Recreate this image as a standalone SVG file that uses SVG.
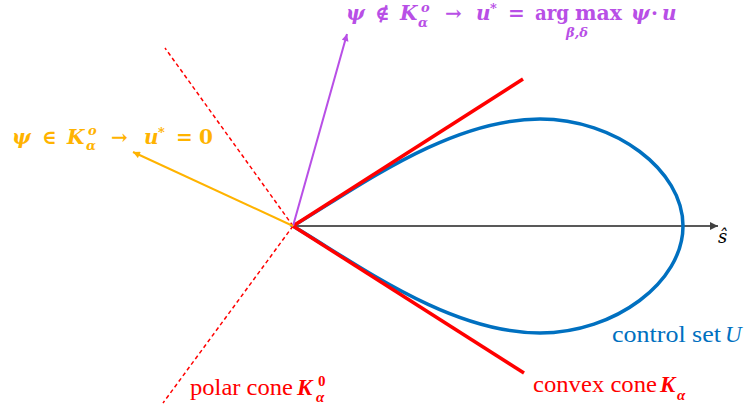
<svg xmlns="http://www.w3.org/2000/svg" width="747" height="412" viewBox="0 0 747 412">
<style>
.m{font-family:"DejaVu Serif","Liberation Serif",serif;font-weight:bold;font-style:italic}
.up{font-style:normal}
.lab{font-family:"Liberation Serif","DejaVu Serif",serif}
.it{font-style:italic}
.cone{stroke:#FF0000;stroke-width:3.5;fill:none;stroke-linecap:butt}
.dash{stroke:#FF0000;stroke-width:1.5;fill:none;stroke-dasharray:4 3}
</style>
<defs>
<marker id="ak" viewBox="0 0 10 10" refX="10" refY="5" markerWidth="10" markerHeight="8" markerUnits="userSpaceOnUse" orient="auto"><path d="M0,0 L10,5 L0,10 z" fill="#404040"/></marker>
<marker id="am" viewBox="0 0 10 10" refX="10" refY="5" markerWidth="9" markerHeight="7" markerUnits="userSpaceOnUse" orient="auto"><path d="M0,0 L10,5 L0,10 z" fill="#B84FE6"/></marker>
<marker id="ao" viewBox="0 0 10 10" refX="10" refY="5" markerWidth="9" markerHeight="7" markerUnits="userSpaceOnUse" orient="auto"><path d="M0,0 L10,5 L0,10 z" fill="#FFB300"/></marker>
</defs>
<rect width="747" height="412" fill="#FFFFFF"/>
<g id="connectors">
<line id="axis" x1="293" y1="226" x2="718" y2="226" stroke="#595959" stroke-width="2" marker-end="url(#ak)"/>
</g>
<g id="control-set">
<path d="M293,226 C360,186 450,119 540,119 C615,119 683,170 683,226 C683,282 615,333 540,333 C450,333 360,266 293,226 Z" fill="none" stroke="#0070C0" stroke-width="3.5"/>
</g>
<g id="convex-cone">
<line class="cone" x1="293" y1="226" x2="523" y2="79"/>
<line class="cone" x1="293" y1="226" x2="524" y2="373"/>
</g>
<g id="polar-cone">
<line class="dash" x1="293" y1="226" x2="165" y2="48"/>
<line class="dash" x1="293" y1="226" x2="163" y2="403"/>
</g>
<g id="vectors">
<line x1="293" y1="226" x2="347" y2="34" stroke="#B84FE6" stroke-width="2" marker-end="url(#am)"/>
<line x1="293" y1="226" x2="133" y2="152" stroke="#FFB300" stroke-width="2" marker-end="url(#ao)"/>
</g>
<g id="label-orange" class="m" fill="#FFB300" font-size="20">
<text x="12" y="144">ψ</text>
<text x="42" y="144" class="up">∈</text>
<text x="67" y="144">K</text>
<text x="88" y="135" font-size="13">o</text>
<text x="86" y="150" font-size="13">α</text>
<text x="111" y="144" class="up">→</text>
<text x="144" y="144">u</text>
<text x="158" y="137" font-size="13" class="up">*</text>
<text x="176" y="144" class="up">=</text>
<text x="199" y="144" class="up">0</text>
</g>
<g id="label-magenta" class="m" fill="#B84FE6" font-size="20">
<text x="346" y="20">ψ</text>
<text x="375" y="20" class="up">∉</text>
<text x="400" y="20">K</text>
<text x="421" y="12" font-size="13">o</text>
<text x="418" y="27" font-size="13">α</text>
<text x="445" y="20" class="up">→</text>
<text x="476" y="20">u</text>
<text x="490" y="13" font-size="13" class="up">*</text>
<text x="508" y="20" class="up">=</text>
<text x="535" y="20" class="up" textLength="34" lengthAdjust="spacingAndGlyphs">arg</text>
<text x="575" y="20" class="up" textLength="47" lengthAdjust="spacingAndGlyphs">max</text>
<text x="566" y="37" font-size="13">β,δ</text>
<text x="631" y="20">ψ</text>
<text x="651" y="20" class="up">·</text>
<text x="662" y="20">u</text>
</g>
<g id="label-s">
<text x="718" y="243" font-size="18" fill="#000000" style="font-family:'DejaVu Serif','Liberation Serif',serif;font-style:italic;font-weight:normal">ŝ</text>
</g>
<g id="label-control-set" class="lab" fill="#0070C0" font-size="23">
<text x="612" y="342" textLength="109" lengthAdjust="spacingAndGlyphs">control set</text>
<text x="725" y="342" class="it">U</text>
</g>
<g id="label-convex-cone" class="lab" fill="#FF0000" font-size="23">
<text x="533" y="392" textLength="124" lengthAdjust="spacingAndGlyphs">convex cone</text>
<text x="660" y="392" font-weight="bold" class="it">K</text>
<text x="677" y="400" font-size="15" font-weight="bold" class="it">α</text>
</g>
<g id="label-polar-cone" class="lab" fill="#FF0000" font-size="23">
<text x="190" y="395" textLength="103" lengthAdjust="spacingAndGlyphs">polar cone</text>
<text x="297" y="395" font-weight="bold" class="it">K</text>
<text x="318" y="386" font-size="15" font-weight="bold">0</text>
<text x="316" y="402" font-size="15" font-weight="bold" class="it">α</text>
</g>
</svg>
